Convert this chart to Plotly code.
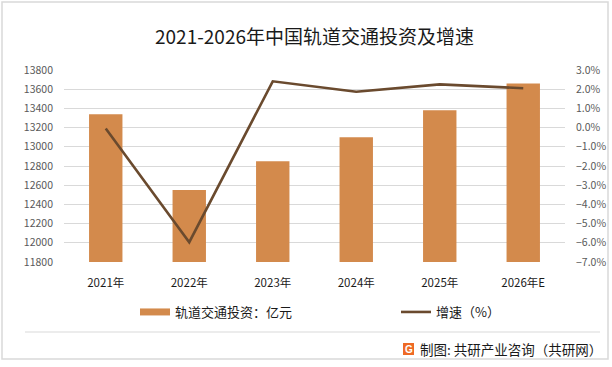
import plotly.graph_objects as go

categories = ["2021年", "2022年", "2023年", "2024年", "2025年", "2026年E"]
investment = [13340, 12550, 12850, 13100, 13380, 13660]
growth = [-0.05, -5.97, 2.41, 1.87, 2.25, 2.05]
bar_name = "轨道交通投资：亿元"
line_name = "增速（%）"
title_text = "2021-2026年中国轨道交通投资及增速"
source_text = "制图: 共研产业咨询（共研网）"

FONT = "Microsoft YaHei, Noto Sans CJK SC, sans-serif"
BAR_COLOR = "#D38A4C"
LINE_COLOR = "#6A4A2E"
W, H = 612, 367
L, R, T, B = 64, 47, 70, 105
pw, ph = W - L - R, H - T - B


def px(x):
    return (x - L) / pw


def py(y):
    return (H - B - y) / ph


fig = go.Figure()
fig.add_trace(go.Bar(
    x=categories, y=investment, name=bar_name,
    marker=dict(color=BAR_COLOR, line=dict(width=0)),
    width=0.4, yaxis="y", showlegend=False,
))
# legend-only entry so the swatch is a flat bar like the reference
fig.add_trace(go.Scatter(
    x=[None], y=[None], name=bar_name, mode="lines",
    line=dict(color=BAR_COLOR, width=7), yaxis="y", legend="legend",
    hoverinfo="skip",
))
fig.add_trace(go.Scatter(
    x=categories, y=growth, name=line_name, mode="lines",
    line=dict(color=LINE_COLOR, width=2.6), yaxis="y2", legend="legend2",
))

leg_common = dict(orientation="h", xanchor="left", yanchor="middle", y=py(312),
                  font=dict(size=13, color="#1a1a1a", family=FONT),
                  bgcolor="rgba(0,0,0,0)", itemclick=False, itemdoubleclick=False)

fig.update_layout(
    width=W, height=H,
    margin=dict(l=L, r=R, t=T, b=B, autoexpand=False),
    paper_bgcolor="white", plot_bgcolor="white",
    font=dict(family=FONT, color="#595959"),
    title=dict(text=title_text, x=0.5, xref="paper", y=1 - 37 / H, yanchor="middle",
               font=dict(size=19, color="#1a1a1a", family=FONT)),
    showlegend=True,
    legend=dict(x=px(135), **leg_common),
    legend2=dict(x=px(396), **leg_common),
    xaxis=dict(type="category", range=[-0.5, 5.5], showgrid=False, showline=False,
               ticks="", tickfont=dict(size=11.5, color="#1a1a1a"),
               ticklabelstandoff=12),
    yaxis=dict(range=[11800, 13800], dtick=200, tick0=11800, showgrid=True,
               gridcolor="#D9D9D9", gridwidth=1, zeroline=False, showline=False,
               ticks="", tickformat="d", tickfont=dict(size=10.5, color="#595959"),
               ticklabelstandoff=10),
    yaxis2=dict(range=[-7, 3], dtick=1, tick0=-7, overlaying="y", side="right",
                showgrid=False, zeroline=False, showline=False, ticks="",
                tickformat=".1f", ticksuffix="%",
                tickfont=dict(size=10.5, color="#595959"), ticklabelstandoff=10),
    bargap=0.6,
)

# outer frame and footer separator
fig.add_shape(type="rect", xref="paper", yref="paper",
              x0=px(2), x1=px(608), y0=py(359), y1=py(2),
              line=dict(color="#D9D9D9", width=1.5), layer="below")
fig.add_shape(type="line", xref="paper", yref="paper",
              x0=px(25), x1=px(600), y0=py(332), y1=py(332),
              line=dict(color="#D9D9D9", width=1))
# footer logo
fig.add_shape(type="rect", xref="paper", yref="paper",
              x0=px(403), x1=px(414), y0=py(355), y1=py(343),
              line=dict(width=0), fillcolor="#EE6A25")
fig.add_annotation(text="<b>G</b>", xref="paper", yref="paper", x=px(408.5), y=py(349),
                   showarrow=False, font=dict(size=10, color="white", family="Arial"),
                   xanchor="center", yanchor="middle")
fig.add_annotation(text=source_text, xref="paper", yref="paper", x=px(604), y=py(349),
                   showarrow=False, xanchor="right", yanchor="middle",
                   font=dict(size=13.5, color="#1a1a1a", family=FONT))

fig.write_html("out.html", config={"displayModeBar": False},
               post_script="document.body.style.margin='0';")
